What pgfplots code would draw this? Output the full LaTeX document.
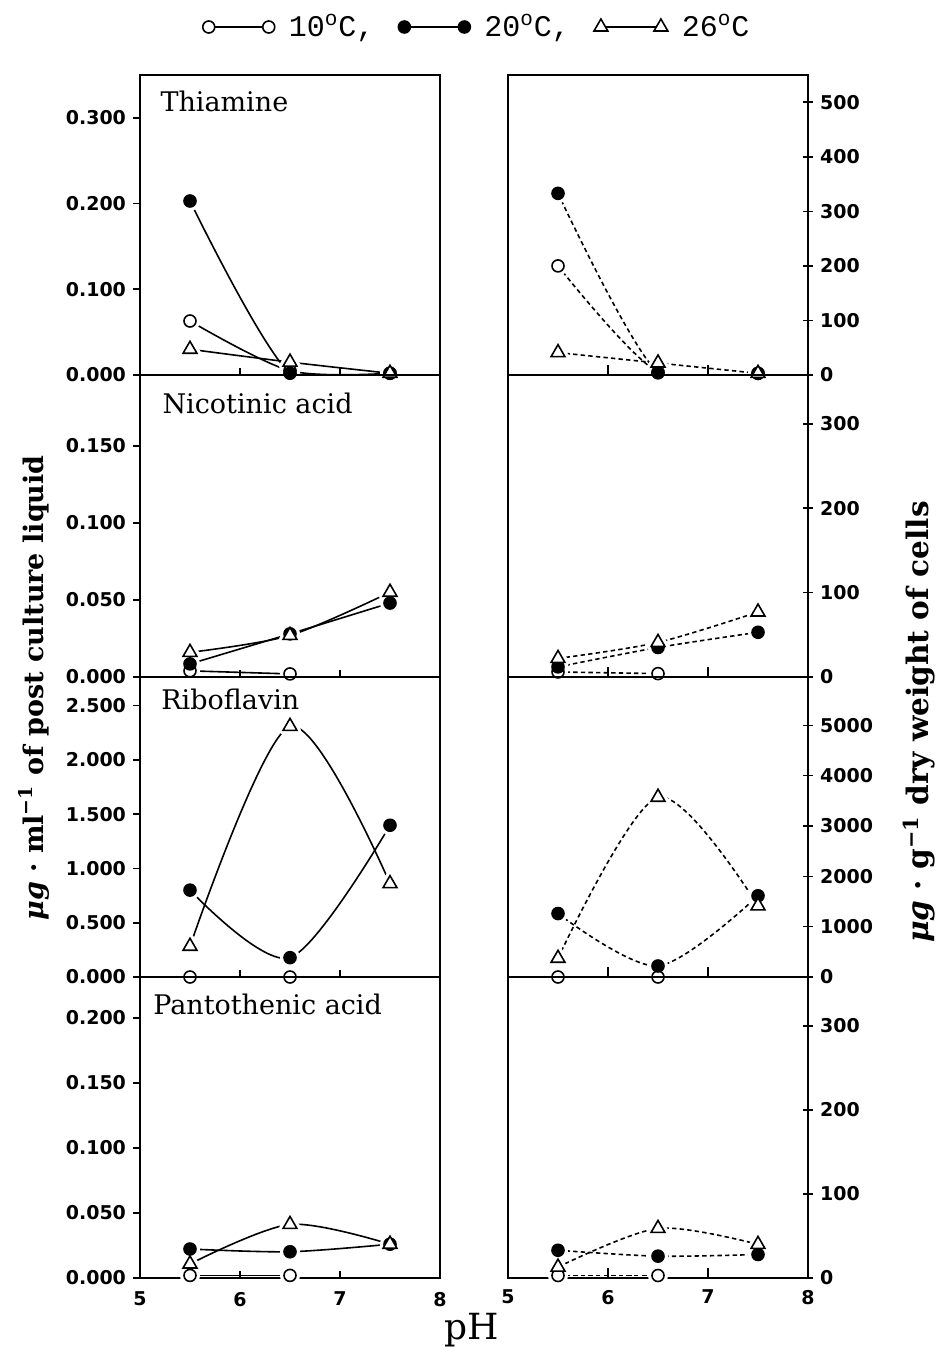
\documentclass[border=0pt]{standalone}
\usepackage{fontspec}
\usepackage{pgfplots}
\pgfplotsset{compat=1.18}
\usepackage{pgfplotstable}
\setmainfont{DejaVu Serif}
\newfontfamily\tickfont{DejaVu Sans}
\newfontfamily\monofont{Liberation Mono}

% columns: a = 10 C, b = 20 C, c = 26 C
\pgfplotstableread{
x   a      b      c
5.5 0.063  0.203  0.030
6.5 0.005  0.002  0.015
7.5 0.002  0.002  0.002
}\TL
\pgfplotstableread{
x   a    b    c
5.5 200  333  41
6.5 5    4    22
7.5 3    3    3
}\TR
\pgfplotstableread{
x   a      b       c
5.5 0.004  0.0085  0.016
6.5 0.002  0.028   0.027
7.5 nan    0.048   0.055
}\NL
\pgfplotstableread{
x   a    b    c
5.5 6    12   22
6.5 4    35   41
7.5 nan  53   77
}\NR
\pgfplotstableread{
x   a    b      c
5.5 0    0.80   0.283
6.5 0    0.178  2.308
7.5 nan  1.397  0.86
}\RL
\pgfplotstableread{
x   a    b     c
5.5 0    1261  372
6.5 0    219   3572
7.5 nan  1614  1414
}\RR
\pgfplotstableread{
x   a      b       c
5.5 0.002  0.0223  0.0108
6.5 0.002  0.0202  0.0412
7.5 nan    0.026   0.026
}\PL
\pgfplotstableread{
x   a    b    c
5.5 3    33   13
6.5 3    26   59
7.5 nan  28   40
}\PR

\tikzset{ptitle/.style={anchor=base west, inner sep=0pt, font=\fontsize{13.5}{15}\selectfont}}

\pgfplotsset{
  s10/.style={mark=*, mark size=3pt, mark options={solid, draw=black, fill=white, line width=0.8pt}},
  s20/.style={mark=*, mark size=3pt, mark options={solid, draw=black, fill=black, line width=0.8pt}},
  s26/.style={mark=triangle*, mark size=4pt, mark options={solid, draw=black, fill=white, line width=0.8pt}},
  halo/.style={mark options={solid, draw=white, fill=white, line width=4pt, line join=round}},
  lineL/.style={black, line width=0.8pt, smooth, no marks, forget plot},
  lineR/.style={lineL, dash pattern=on 2.2pt off 1.6pt},
  panel/.style={scale only axis, width=150pt, xmin=5, xmax=8, ymin=0,
    axis on top, scaled ticks=false, xtick pos=bottom,
    tick style={black, line width=0.8pt}, axis line style={line width=0.9pt},
    /pgf/number format/assume math mode=true,
    tick label style={font=\fontsize{9.5}{11}\selectfont\tickfont\bfseries}},
  upper/.style={xtick={6,7}, xticklabels={}},
  lower/.style={xtick={5,6,7,8}},
  leftpanel/.style={panel, at={(70pt,#1)}, anchor=north west,
    ytick pos=left, tick align=outside, major tick length=3.5pt,
    xtick style={yshift=3.5pt},
    yticklabel style={/pgf/number format/fixed, /pgf/number format/fixed zerofill,
      /pgf/number format/precision=3}},
  rightpanel/.style={panel, at={(254pt,#1)}, anchor=north west,
    ytick pos=right, yticklabel pos=right, tick align=center, major tick length=5pt,
    xtick style={yshift=2.5pt},
    yticklabel style={/pgf/number format/fixed, /pgf/number format/precision=0,
      /pgf/number format/1000 sep={}}},
}

\newcommand{\drawpanel}[2]{%
  \addplot[#2] table[x=x,y=a]{#1};
  \addplot[#2] table[x=x,y=b]{#1};
  \addplot[#2] table[x=x,y=c]{#1};
  \addplot[only marks, forget plot, s10, halo] table[x=x,y=a]{#1};
  \addplot[only marks, forget plot, s20, halo] table[x=x,y=b]{#1};
  \addplot[only marks, forget plot, s26, halo] table[x=x,y=c]{#1};
  \addplot[only marks, forget plot, s10] table[x=x,y=a]{#1};
  \addplot[only marks, forget plot, s20] table[x=x,y=b]{#1};
  \addplot[only marks, forget plot, s26] table[x=x,y=c]{#1};
}

\begin{document}
\begin{tikzpicture}
\useasboundingbox (0pt,0pt) rectangle (468.5pt,-679pt);

% ---- row 1: thiamine
\begin{axis}[leftpanel=-37.5pt, upper, height=150pt, ymax=0.35, ytick={0,0.1,0.2,0.3},
  legend style={at={(1.127,1.16)}, anchor=center, draw=none, fill=none,
    font=\fontsize{15}{17}\selectfont\monofont, legend columns=3,
    /tikz/every even column/.append style={column sep=10pt},
    /tikz/every odd column/.append style={column sep=5pt}},
  legend image code/.code={\draw[#1] plot coordinates {(0pt,0pt) (30pt,0pt)};}]
\drawpanel{\TL}{lineL}
\addlegendimage{black, line width=0.8pt, s10}
\addlegendentry{10\textsuperscript{o}C,}
\addlegendimage{black, line width=0.8pt, s20}
\addlegendentry{20\textsuperscript{o}C,}
\addlegendimage{black, line width=0.8pt, s26}
\addlegendentry{26\textsuperscript{o}C}
\node[ptitle] at (rel axis cs:0.067,0.877) {Thiamine};
\end{axis}
\begin{axis}[rightpanel=-37.5pt, upper, height=150pt, ymax=550, ytick={0,100,...,500}]
\drawpanel{\TR}{lineR}
\end{axis}

% ---- row 2: nicotinic acid
\begin{axis}[leftpanel=-187.5pt, upper, height=151pt, ymax=0.196, ytick={0,0.05,0.1,0.15}]
\drawpanel{\NL}{lineL}
\node[ptitle] at (rel axis cs:0.074,0.874) {Nicotinic acid};
\end{axis}
\begin{axis}[rightpanel=-187.5pt, upper, height=151pt, ymax=358, ytick={0,100,200,300}]
\drawpanel{\NR}{lineR}
\end{axis}

% ---- row 3: riboflavin
\begin{axis}[leftpanel=-338.5pt, upper, height=150pt, ymax=2.762, ytick={0,0.5,1,1.5,2,2.5}]
\drawpanel{\RL}{lineL}
\node[ptitle] at (rel axis cs:0.070,0.893) {Riboflavin};
\end{axis}
\begin{axis}[rightpanel=-338.5pt, upper, height=150pt, ymax=5960, ytick={0,1000,...,5000}]
\drawpanel{\RR}{lineR}
\end{axis}

% ---- row 4: pantothenic acid
\begin{axis}[leftpanel=-488.5pt, lower, height=150.5pt, ymax=0.2315, ytick={0,0.05,0.1,0.15,0.2}]
\drawpanel{\PL}{lineL}
\node[ptitle] at (rel axis cs:0.043,0.874) {Pantothenic acid};
\end{axis}
\begin{axis}[rightpanel=-488.5pt, lower, height=150.5pt, ymax=358, ytick={0,100,200,300}]
\drawpanel{\PR}{lineR}
\end{axis}

\node[rotate=90, font=\fontsize{13.5}{15}\selectfont\bfseries] at (17pt,-344pt)
  {{\itshape μg} · ml\textsuperscript{−1} of post culture liquid};
\node[rotate=90, font=\fontsize{14.8}{16}\selectfont\bfseries] at (459.5pt,-361pt)
  {{\itshape μg} · g\textsuperscript{−1} dry weight of cells};
\node[font=\fontsize{18}{20}\selectfont] at (236pt,-665pt) {pH};
\end{tikzpicture}
\end{document}
